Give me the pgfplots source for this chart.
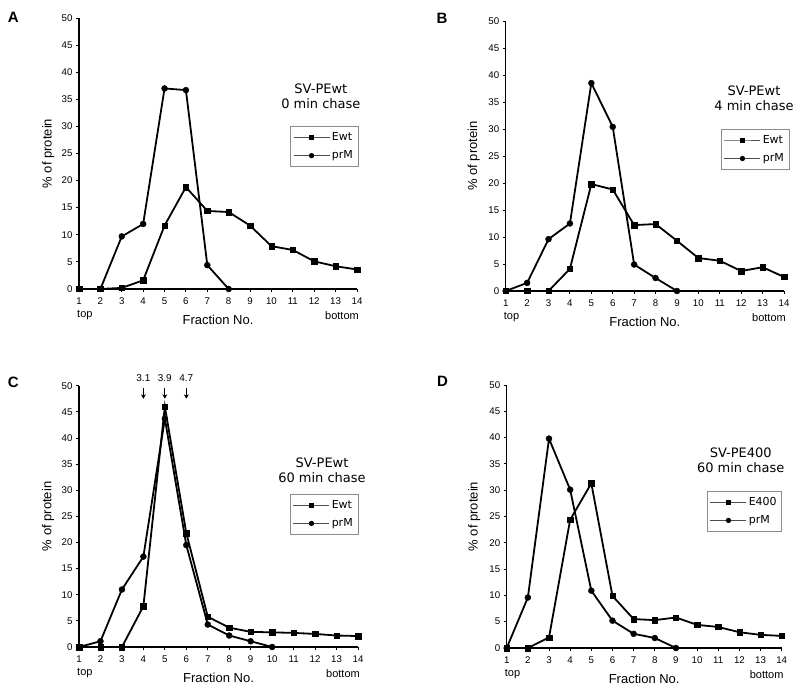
\documentclass[border=0pt]{standalone}
\usepackage{fontspec}
\setmainfont{Liberation Sans}
\newfontfamily\geneva{DejaVu Sans}
\usepackage{pgfplots}
\pgfplotsset{compat=1.18}
\usetikzlibrary{arrows.meta}
\pgfplotsset{
  panel/.style={
    scale only axis,
    anchor=south west,
    xmin=1, xmax=14, ymin=0, ymax=50,
    xtick={1,...,14}, ytick={0,5,...,50},
    axis x line*=bottom, axis y line*=left,
    axis line style={-, line width=1.1pt, black},
    tick align=outside,
    major tick length=3pt,
    major tick style={line width=0.9pt, black},
    tick label style={font=\fontsize{9.7}{11}\selectfont},
    xticklabel style={yshift=-2pt},
    /pgf/number format/assume math mode=true,
    label style={font=\fontsize{13}{15}\selectfont},
    xlabel={Fraction No.},
    ylabel={\% of protein},
    xlabel style={at={(axis description cs:0.5,0)}, anchor=center, yshift=-31pt},
    clip=false,
    legend style={font=\geneva\fontsize{11}{13}\selectfont, draw=black!45, line width=0.5pt,
      fill=white, row sep=5pt, inner xsep=3pt, inner ysep=4pt,
      cells={anchor=west}, anchor=north east},
    legend image code/.code={\draw[mark repeat=2,mark phase=2] plot coordinates {(0pt,0pt)(18pt,0pt)(36pt,0pt)};},
  },
  sq/.style={black, line width=1.8pt, mark=square*, mark size=2.7pt, mark options={solid, line width=0.4pt}},
  ci/.style={black, line width=1.8pt, mark=*, mark size=3pt, mark options={solid, line width=0.4pt}},
  lsq/.style={black!70, line width=0.6pt, mark=square*, mark size=2pt, mark options={black, fill=black}},
  lci/.style={black!70, line width=0.6pt, mark=*, mark size=2.3pt, mark options={black, fill=black}},
}
\tikzset{ttl/.style={align=center, font=\geneva\fontsize{13}{15}\selectfont}}
\newcommand{\tb}{%
  \node[font=\fontsize{11}{13}\selectfont, anchor=west, inner sep=0pt] at ([xshift=-2pt,yshift=-26.5pt]rel axis cs:0,0) {top};
  \node[font=\fontsize{11}{13}\selectfont, anchor=east, inner sep=0pt] at ([xshift=2pt,yshift=-26.5pt]rel axis cs:1,0) {bottom};
}
\begin{document}
\begin{tikzpicture}
% ---------- A ----------
\begin{axis}[panel, at={(79pt,405pt)}, width=278pt, height=271pt,
  ylabel style={at={(axis description cs:-0.111,0.5)}, anchor=center},
  legend style={at={(1.004,0.601)}}]
\addlegendimage{lsq}\addlegendentry{Ewt}
\addlegendimage{lci}\addlegendentry{prM}
\addplot[sq, forget plot] coordinates {(1,0)(2,0)(3,0.2)(4,1.6)(5,11.7)(6,18.8)(7,14.4)(8,14.2)(9,11.7)(10,7.9)(11,7.2)(12,5.1)(13,4.2)(14,3.6)};
\addplot[ci, forget plot] coordinates {(1,0)(2,0)(3,9.7)(4,12.0)(5,37.0)(6,36.7)(7,4.4)(8,0)};
\node[ttl] at (rel axis cs:0.870,0.710) {SV-PEwt\\0 min chase};
\tb
\end{axis}
% ---------- B ----------
\begin{axis}[panel, at={(505.7pt,403pt)}, width=278.3pt, height=270pt,
  ylabel style={at={(axis description cs:-0.115,0.5)}, anchor=center},
  legend style={at={(1.018,0.60)}}]
\addlegendimage{lsq}\addlegendentry{Ewt}
\addlegendimage{lci}\addlegendentry{prM}
\addplot[sq, forget plot] coordinates {(1,0)(2,0)(3,0)(4,4.1)(5,19.8)(6,18.8)(7,12.2)(8,12.4)(9,9.3)(10,6.1)(11,5.6)(12,3.7)(13,4.4)(14,2.6)};
\addplot[ci, forget plot] coordinates {(1,0)(2,1.5)(3,9.6)(4,12.5)(5,38.5)(6,30.4)(7,4.9)(8,2.4)(9,0)};
\node[ttl] at (rel axis cs:0.892,0.713) {SV-PEwt\\4 min chase};
\tb
\end{axis}
% ---------- C ----------
\begin{axis}[panel, at={(79pt,47pt)}, width=279pt, height=261.3pt,
  ylabel style={at={(axis description cs:-0.111,0.5)}, anchor=center},
  legend style={at={(1.0,0.586)}}]
\addlegendimage{lsq}\addlegendentry{Ewt}
\addlegendimage{lci}\addlegendentry{prM}
\addplot[sq, forget plot] coordinates {(1,0)(2,0)(3,0)(4,7.8)(5,46.0)(6,21.8)(7,5.8)(8,3.7)(9,2.9)(10,2.8)(11,2.7)(12,2.5)(13,2.2)(14,2.1)};
\addplot[ci, forget plot] coordinates {(1,0)(2,1.1)(3,11.0)(4,17.3)(5,43.7)(6,19.5)(7,4.3)(8,2.2)(9,1.1)(10,0)};
\node[ttl] at (rel axis cs:0.871,0.675) {SV-PEwt\\60 min chase};
\foreach \xx/\lab in {4/3.1,5/3.9,6/4.7}{
  \edef\tmp{\noexpand\draw[line width=1.1pt, -{Stealth[length=4.5pt,width=5pt]}] (axis cs:\xx,49.6) -- (axis cs:\xx,47.5);
  \noexpand\node[font=\noexpand\fontsize{10}{12}\noexpand\selectfont] at (axis cs:\xx,51.4) {\lab};}\tmp
}
\tb
\end{axis}
% ---------- D ----------
\begin{axis}[panel, at={(506.7pt,46pt)}, width=275pt, height=263pt,
  ylabel style={at={(axis description cs:-0.118,0.5)}, anchor=center},
  legend style={at={(1.001,0.598)}}]
\addlegendimage{lsq}\addlegendentry{E400}
\addlegendimage{lci}\addlegendentry{prM}
\addplot[sq, forget plot] coordinates {(1,0)(2,0)(3,2.0)(4,24.4)(5,31.3)(6,9.9)(7,5.5)(8,5.3)(9,5.8)(10,4.4)(11,4.0)(12,3.0)(13,2.5)(14,2.3)};
\addplot[ci, forget plot] coordinates {(1,0)(2,9.6)(3,39.8)(4,30.1)(5,10.9)(6,5.2)(7,2.7)(8,1.9)(9,0)};
\node[ttl] at (rel axis cs:0.851,0.714) {SV-PE400\\60 min chase};
\tb
\end{axis}
% panel letters
\node[font=\fontsize{15}{17}\selectfont\bfseries] at (13.3pt,676.2pt) {A};
\node[font=\fontsize{15}{17}\selectfont\bfseries] at (442pt,676pt) {B};
\node[font=\fontsize{15}{17}\selectfont\bfseries] at (13.3pt,311.3pt) {C};
\node[font=\fontsize{15}{17}\selectfont\bfseries] at (442.5pt,312.3pt) {D};
\pgfresetboundingbox
\useasboundingbox (0,0) rectangle (800pt,694pt);
\end{tikzpicture}
\end{document}
